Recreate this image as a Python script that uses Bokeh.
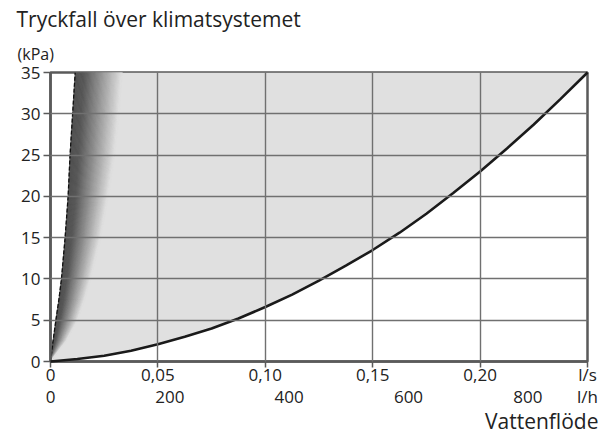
from bokeh.plotting import figure
from bokeh.models import (Range1d, LinearAxis, FixedTicker, Title)
from bokeh.embed import file_html
from bokeh.resources import INLINE

# ---- data ----
title_text = "Tryckfall över klimatsystemet"
y_unit = "(kPa)"
x_title = "Vattenflöde"

kpa_ticks = [0, 5, 10, 15, 20, 25, 30, 35]
ls_ticks = [0, 0.05, 0.10, 0.15, 0.20, 0.25]
ls_labels = ["0", "0,05", "0,10", "0,15", "0,20", "l/s"]
lh_ticks = [0, 200, 400, 600, 800, 900]
lh_labels = ["0", "200", "400", "600", "800", "l/h"]

# system curve (l/s, kPa)
main_flow = [0, 0.0125, 0.025, 0.0375, 0.05, 0.0625, 0.075, 0.0875, 0.10, 0.1125,
             0.125, 0.1375, 0.15, 0.1625, 0.175, 0.1875, 0.20, 0.2125, 0.225, 0.2375, 0.25]
main_kpa = [0, 0.3, 0.7, 1.3, 2.1, 3.0, 4.0, 5.2, 6.6, 8.1,
            9.8, 11.6, 13.5, 15.6, 17.9, 20.4, 23.0, 25.8, 28.7, 31.8, 35]

# steep (left) boundary and the right edge of the dark fade
edge_kpa = [0, 2.5, 5, 7.5, 10, 15, 20, 25, 30, 35]
steep_flow = [0, 0.0012, 0.0025, 0.0039, 0.0051, 0.0068, 0.0082, 0.0091, 0.0103, 0.0115]
fade_flow = [0, 0.0075, 0.0127, 0.0160, 0.0188, 0.0235, 0.0270, 0.0300, 0.0320, 0.0335]

FONT = "Open Sans"
TXT = "#222222"
GRID = "#707070"
FRAME = "#5a5a5a"
LIGHT = (224, 224, 224)
DARK = (78, 78, 78)

p = figure(width=603, height=434, output_backend="svg", toolbar_location=None,
           x_range=Range1d(0, 0.25), y_range=Range1d(0, 35),
           min_border_left=50, min_border_right=16, min_border_top=72, min_border_bottom=73)
p.background_fill_color = "white"
p.border_fill_color = "white"
p.outline_line_color = FRAME
p.outline_line_width = 2.5

# light grey area between the steep boundary and the system curve
fill_x = list(steep_flow) + [main_flow[-1]] + list(reversed(main_flow))
fill_y = list(edge_kpa) + [main_kpa[-1]] + list(reversed(main_kpa))
p.patch(fill_x, fill_y, fill_color="#e0e0e0", line_color=None)

# dark fade bands
N = 40
def band_x(t):
    return [s + t * (f - s) for s, f in zip(steep_flow, fade_flow)]

def shade(t):
    if t < 0.2:
        u = t / 0.2 * 0.06
    else:
        u = 0.06 + (t - 0.2) / 0.8 * 0.94
    u = min(max(u, 0), 1)
    c = [int(round(DARK[i] + (LIGHT[i] - DARK[i]) * u)) for i in range(3)]
    return "#%02x%02x%02x" % tuple(c)

xs, ys, cols = [], [], []
for i in range(N):
    t0, t1 = i / N, (i + 1) / N
    xl, xr = band_x(t0), band_x(t1)
    xs.append(xl + list(reversed(xr)))
    ys.append(list(edge_kpa) + list(reversed(edge_kpa)))
    cols.append(shade((t0 + t1) / 2))
p.patches(xs, ys, fill_color=cols, line_color=cols, line_width=0.8)

# steep boundary (dashed)
p.line(steep_flow, edge_kpa, line_color="#111111", line_width=1.3, line_dash="4 2")

# grid on top
for g in (p.xgrid, p.ygrid):
    g.level = "overlay"
    g.grid_line_color = GRID
    g.grid_line_width = 1.4
p.xgrid.ticker = FixedTicker(ticks=ls_ticks)
p.ygrid.ticker = FixedTicker(ticks=kpa_ticks)

# system curve
r = p.line(main_flow, main_kpa, line_color="#1a1a1a", line_width=2.6)
r.level = "overlay"

# axes
xa = p.xaxis[0]
xa.ticker = FixedTicker(ticks=ls_ticks)
xa.major_label_overrides = {t: l for t, l in zip(ls_ticks, ls_labels)}
ya = p.yaxis[0]
ya.ticker = FixedTicker(ticks=kpa_ticks)

for ax in (xa, ya):
    ax.axis_line_color = FRAME
    ax.axis_line_width = 2.5
    ax.major_tick_line_color = FRAME
    ax.major_tick_line_width = 1.5
    ax.major_tick_in = 0
    ax.major_tick_out = 7
    ax.minor_tick_line_color = None
    ax.major_label_text_font = FONT
    ax.major_label_text_font_size = "17px"
    ax.major_label_text_color = TXT
xa.major_tick_out = 6
xa.major_label_standoff = -5
ya.major_label_standoff = 3

p.extra_x_ranges = {"lh": Range1d(0, 900)}
xa2 = LinearAxis(x_range_name="lh", ticker=FixedTicker(ticks=lh_ticks))
xa2.major_label_overrides = {t: l for t, l in zip(lh_ticks, lh_labels)}
xa2.axis_line_color = None
xa2.major_tick_line_color = None
xa2.minor_tick_line_color = None
xa2.major_tick_in = 0
xa2.major_tick_out = 0
xa2.major_label_standoff = -4
xa2.major_label_text_font = FONT
xa2.major_label_text_font_size = "17px"
xa2.major_label_text_color = TXT
p.add_layout(xa2, "below")

# texts
p.add_layout(Title(text=y_unit, align="left", offset=-33, standoff=16,
                   text_font=FONT, text_font_size="16px", text_color=TXT,
                   text_font_style="normal"), "above")
p.add_layout(Title(text=title_text, align="left", offset=-34, standoff=0,
                   text_font=FONT, text_font_size="21px", text_color=TXT,
                   text_font_style="normal"), "above")
p.add_layout(Title(text=x_title, align="right", offset=-11, standoff=-12,
                   text_font=FONT, text_font_size="21px", text_color=TXT,
                   text_font_style="normal"), "below")

open("out.html", "w").write(file_html(p, INLINE))
